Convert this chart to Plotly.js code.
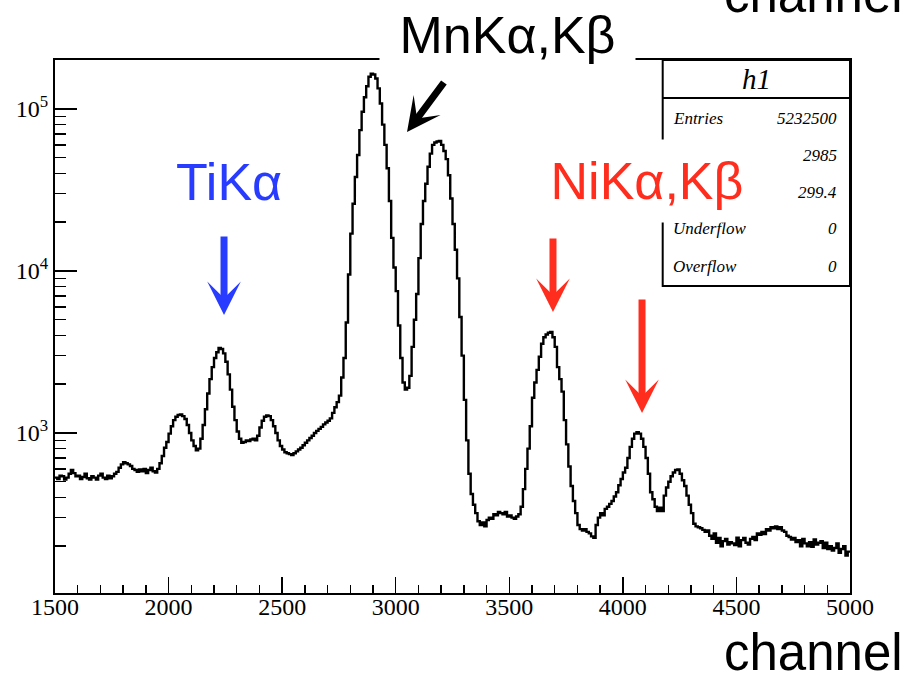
<!DOCTYPE html>
<html><head><meta charset="utf-8">
<script src="https://cdn.plot.ly/plotly-3.0.1.min.js"></script>
<style>html,body{margin:0;padding:0;background:#fff}</style>
</head><body>
<div id="chart" style="width:914px;height:674px"></div>
<script>
// ---- data: counts per 10-channel bin, 1500 .. 5000 (one row = 100 channels) ----
const binLow = 1500;
const binWidth = 10;
const counts = [
 530,520,545,540,515,530,560,590,565,540,
 545,520,535,560,525,515,540,530,515,545,
 560,530,520,545,525,540,560,575,610,640,
 660,650,640,625,600,590,575,595,580,600,
 565,590,610,580,570,600,650,720,810,880,
 990,1100,1200,1260,1290,1300,1270,1220,1120,1000,
 900,830,780,800,920,1120,1400,1750,2150,2550,
 2900,3150,3350,3300,3100,2750,2300,1850,1450,1200,
 1020,920,870,880,900,890,910,920,900,960,
 1080,1190,1260,1280,1270,1200,1100,1000,900,830,
 790,760,750,740,730,750,770,790,810,840,
 870,900,930,960,1000,1030,1060,1090,1130,1160,
 1190,1230,1330,1440,1550,1700,2200,2900,4800,9500,
 17000,26000,38000,52000,74000,96000,118000,138000,158000,165000,
 163000,154000,134000,108000,80000,60000,43000,27000,16000,10500,
 7500,4600,2900,2050,1850,1900,2250,3400,5000,7200,
 12000,19500,27000,34500,44000,53000,60000,62000,63000,63500,
 60000,55000,49000,39000,28000,19500,13500,9000,5200,3000,
 1600,900,560,420,360,320,285,270,280,265,
 290,300,295,315,310,325,320,315,325,305,
 310,300,295,305,315,350,450,600,800,1100,
 1650,2050,2450,2950,3550,3900,4050,4150,4200,3900,
 3400,2550,2150,1800,1200,850,620,470,380,320,
 270,255,250,255,245,240,230,225,270,300,
 320,310,340,350,365,380,405,430,475,520,
 570,610,700,820,920,990,1010,990,920,820,
 700,560,430,390,350,330,345,330,410,460,
 500,540,570,590,595,560,510,470,410,360,
 320,275,265,262,258,252,245,250,232,222,
 240,210,225,200,215,222,205,212,208,203,
 226,200,218,225,210,205,222,228,218,240,
 235,245,238,255,250,262,258,265,255,262,
 250,245,232,228,220,225,212,218,200,222,
 208,200,212,198,220,205,210,215,195,210,
 192,200,188,195,208,182,192,200,175,185
];
const xRange = [1500, 5000];
const yLogRange = [2.012, 5.302];
const yTickVals = [1e3, 1e4, 1e5];
const yTickText = ['10<sup>3</sup>', '10<sup>4</sup>', '10<sup>5</sup>'];
const statsTitle = 'h1';
const statsLabels = ['Entries', '', '', 'Underflow', 'Overflow'];
const statsValues = ['5232500', '2985', '299.4', '0', '0'];
const axisTitle = 'channel';
const peakTexts = ['MnKα,Kβ', 'TiKα', 'NiKα,Kβ'];

// ---- build step histogram ----
const xs = counts.map((c, i) => binLow + i * binWidth);
const ys = counts.slice();
xs.push(binLow + counts.length * binWidth);
ys.push(counts[counts.length - 1]);

const yMinor = [];
[100, 1000, 10000, 100000].forEach(d => {
  for (let k = 2; k <= 9; k++) yMinor.push(k * d);
});

const BLUE = 'rgb(40,60,255)';
const RED = 'rgb(255,45,30)';
const serif = 'Liberation Serif';
const sans = 'Liberation Sans';

const trace = {
  x: xs, y: ys, type: 'scatter', mode: 'lines',
  line: {color: '#000', width: 2.4, shape: 'hv'},
  hoverinfo: 'skip', showlegend: false
};

// stats box geometry (paper)
const sx0 = 0.7644, sx1 = 1, sy0 = 0.576, sy1 = 1, sLine = 0.9287;
const rowY = [0.8902, 0.8199, 0.7523, 0.6839, 0.6135];

const annotations = [];
annotations.push({xref:'paper', yref:'paper', x:(sx0+sx1)/2, y:0.9644, text:'<i>'+statsTitle+'</i>',
  showarrow:false, font:{family:serif, size:29, color:'#000'}, xanchor:'center', yanchor:'middle'});
statsLabels.forEach((t, i) => {
  if (t) annotations.push({xref:'paper', yref:'paper', x:0.7745, y:rowY[i], text:'<i>'+t+'</i>',
    showarrow:false, font:{family:serif, size:17, color:'#000'}, xanchor:'left', yanchor:'middle'});
  annotations.push({xref:'paper', yref:'paper', x:0.9862, y:rowY[i], text:'<i>'+statsValues[i]+'</i>',
    showarrow:false, font:{family:serif, size:17, color:'#000'}, xanchor:'right', yanchor:'middle'});
});
const arrowCommon = {xref:'paper', yref:'paper', text:'', showarrow:true, arrowhead:3, arrowwidth:7, arrowsize:0.8, standoff:0};
annotations.push(Object.assign({}, arrowCommon, {x:0.2126, y:0.5216, ax:0, ay:-80, arrowcolor:BLUE}));
annotations.push(Object.assign({}, arrowCommon, {x:0.6264, y:0.5272, ax:0, ay:-75, arrowcolor:RED}));
annotations.push(Object.assign({}, arrowCommon, {x:0.7384, y:0.3377, ax:0, ay:-115, arrowcolor:RED}));
annotations.push(Object.assign({}, arrowCommon, {x:0.4428, y:0.8649, ax:38, ay:-51, arrowcolor:'#000'}));
annotations.push({xref:'paper', yref:'paper', x:0.5686, y:1.0469, text:peakTexts[0], showarrow:false,
  font:{family:sans, size:52, color:'#000'}, bgcolor:'#fff', width:255, height:60, borderpad:0,
  xanchor:'center', yanchor:'middle'});
annotations.push({xref:'paper', yref:'paper', x:0.2189, y:0.7711, text:peakTexts[1], showarrow:false,
  font:{family:sans, size:52, color:BLUE}, xanchor:'center', yanchor:'middle'});
annotations.push({xref:'paper', yref:'paper', x:0.7447, y:0.773, text:peakTexts[2], showarrow:false,
  font:{family:sans, size:52, color:RED}, bgcolor:'#fff', width:230, height:82, borderpad:0,
  xanchor:'center', yanchor:'middle'});
annotations.push({xref:'paper', yref:'paper', x:1.069, y:-0.1107, text:axisTitle, showarrow:false,
  font:{family:sans, size:51, color:'#000'}, xanchor:'right', yanchor:'middle'});
annotations.push({xref:'paper', yref:'paper', x:1.069, y:1.1238, text:axisTitle, showarrow:false,
  font:{family:sans, size:51, color:'#000'}, xanchor:'right', yanchor:'middle'});

const shapes = [
  {type:'rect', xref:'paper', yref:'paper', x0:sx0, x1:sx1, y0:sy0, y1:sy1,
   line:{color:'#000', width:2}, fillcolor:'#fff', layer:'above'},
  {type:'line', xref:'paper', yref:'paper', x0:sx0, x1:sx1, y0:sLine, y1:sLine,
   line:{color:'#000', width:2}, layer:'above'}
];

const layout = {
  width: 914, height: 674,
  margin: {l:55, r:64, t:60, b:81, pad:0},
  paper_bgcolor:'#fff', plot_bgcolor:'#fff',
  showlegend:false,
  xaxis: {
    range: xRange, tickmode:'linear', tick0:1500, dtick:500,
    ticks:'inside', ticklen:16, tickwidth:1.5, tickcolor:'#000',
    minor:{dtick:100, ticks:'inside', ticklen:8, tickwidth:1.5, tickcolor:'#000', showgrid:false},
    showline:true, linewidth:2, linecolor:'#000', mirror:true,
    showgrid:false, zeroline:false, ticklabelstandoff:-9,
    tickfont:{family:serif, size:24, color:'#000'}
  },
  yaxis: {
    type:'log', range: yLogRange, tickmode:'array', tickvals:yTickVals, ticktext:yTickText,
    ticks:'inside', ticklen:22, tickwidth:1.5, tickcolor:'#000',
    minor:{tickmode:'array', tickvals:yMinor, ticks:'inside', ticklen:11, tickwidth:1.5, tickcolor:'#000', showgrid:false},
    showline:true, linewidth:2, linecolor:'#000', mirror:true,
    showgrid:false, zeroline:false,
    tickfont:{family:serif, size:24, color:'#000'}
  },
  annotations: annotations,
  shapes: shapes
};

Plotly.newPlot('chart', [trace], layout, {staticPlot:true, displayModeBar:false});
</script>
</body></html>
